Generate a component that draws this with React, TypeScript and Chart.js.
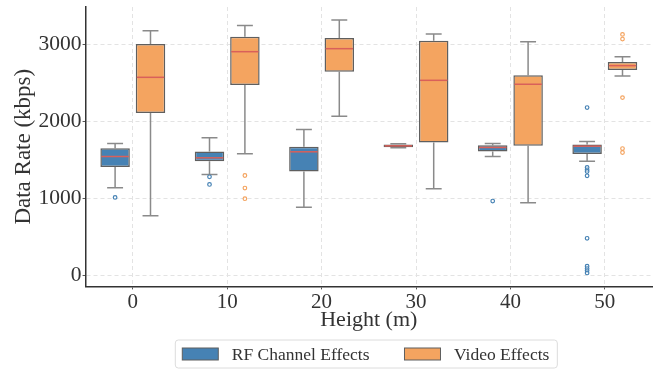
import React, { useEffect, useRef } from 'react';
import { Chart, registerables } from 'chart.js';
Chart.register(...registerables);

const categories = ['0', '10', '20', '30', '40', '50'];
const seriesNames = ['RF Channel Effects', 'Video Effects'];
const yTicks = [0, 1000, 2000, 3000];

const rfQ1 = [1406, 1483, 1349, 1664, 1608, 1574];
const rfQ3 = [1651, 1608, 1668, 1698, 1690, 1698];
const rfMedian = [1543, 1526, 1604, 1681, 1660, 1677];
const rfWhiskerLow = [1138, 1310, 884, 1655, 1543, 1483];
const rfWhiskerHigh = [1711, 1785, 1892, 1707, 1711, 1737];
const rfOutliers = [[1013], [1280, 1181], [], [], [966], [2177, 1401, 1371, 1349, 1293, 483, 121, 91, 65, 34]];

const vidQ1 = [2108, 2470, 2642, 1724, 1681, 2664];
const vidQ3 = [3000, 3095, 3078, 3043, 2595, 2767];
const vidMedian = [2569, 2901, 2940, 2530, 2479, 2720];
const vidWhiskerLow = [776, 1578, 2065, 1125, 944, 2586];
const vidWhiskerHigh = [3172, 3241, 3310, 3129, 3030, 2836];
const vidOutliers = [[], [1297, 1134, 996], [], [], [], [3125, 3065, 2306, 1646, 1595]];

const FONT = "'Liberation Serif', 'Times New Roman', serif";
const colors = ['#4682b4', '#f4a460'];
const BOX_EDGE = '#5f5f5f';
const WHISKER = '#8a8a8a';
const MEDIAN = '#d9605a';

const stats = [
  { q1: rfQ1, q3: rfQ3, med: rfMedian, lo: rfWhiskerLow, hi: rfWhiskerHigh, out: rfOutliers },
  { q1: vidQ1, q3: vidQ3, med: vidMedian, lo: vidWhiskerLow, hi: vidWhiskerHigh, out: vidOutliers },
];

const boxPlugin = {
  id: 'boxParts',
  beforeDatasetsDraw(chart: any) {
    const ctx = chart.ctx;
    const y = chart.scales.y;
    chart.data.datasets.forEach((_ds: any, di: number) => {
      const meta = chart.getDatasetMeta(di);
      const s = stats[di];
      meta.data.forEach((bar: any, i: number) => {
        const { x, width } = bar.getProps(['x', 'width'], true);
        const cap = width * 0.27;
        ctx.save();
        ctx.strokeStyle = WHISKER;
        ctx.lineWidth = 1.5;
        ctx.beginPath();
        ctx.moveTo(x, y.getPixelForValue(s.q3[i]));
        ctx.lineTo(x, y.getPixelForValue(s.hi[i]));
        ctx.moveTo(x, y.getPixelForValue(s.q1[i]));
        ctx.lineTo(x, y.getPixelForValue(s.lo[i]));
        ctx.moveTo(x - cap, y.getPixelForValue(s.hi[i]));
        ctx.lineTo(x + cap, y.getPixelForValue(s.hi[i]));
        ctx.moveTo(x - cap, y.getPixelForValue(s.lo[i]));
        ctx.lineTo(x + cap, y.getPixelForValue(s.lo[i]));
        ctx.stroke();
        ctx.restore();
      });
    });
  },
  afterDatasetsDraw(chart: any) {
    const ctx = chart.ctx;
    const y = chart.scales.y;
    chart.data.datasets.forEach((_ds: any, di: number) => {
      const meta = chart.getDatasetMeta(di);
      const s = stats[di];
      meta.data.forEach((bar: any, i: number) => {
        const { x, width } = bar.getProps(['x', 'width'], true);
        ctx.save();
        ctx.strokeStyle = MEDIAN;
        ctx.lineWidth = 1.5;
        ctx.beginPath();
        const my = y.getPixelForValue(s.med[i]);
        ctx.moveTo(x - width / 2 + 1, my);
        ctx.lineTo(x + width / 2 - 1, my);
        ctx.stroke();
        s.out[i].forEach((v: number) => {
          const py = y.getPixelForValue(v);
          ctx.beginPath();
          ctx.arc(x, py, 1.8, 0, Math.PI * 2);
          ctx.fillStyle = 'rgba(255,255,255,0.6)';
          ctx.fill();
          ctx.strokeStyle = colors[di];
          ctx.lineWidth = 1.2;
          ctx.stroke();
        });
        ctx.restore();
      });
    });
  },
  afterDraw(chart: any) {
    const ctx = chart.ctx;
    const area = chart.chartArea;
    ctx.save();
    ctx.font = `17.5px ${FONT}`;
    const boxW = 36, boxH = 12, gapText = 13.5, itemGap = 35;
    const widths = seriesNames.map((n) => boxW + gapText + ctx.measureText(n).width);
    const total = widths[0] + itemGap + widths[1];
    const cx = (area.left + area.right) / 2 - 3;
    let x = cx - total / 2;
    const cy = 354;
    const fx = x - 7, fw = total + 15, fy = cy - 14, fh = 28;
    ctx.beginPath();
    (ctx as any).roundRect(fx, fy, fw, fh, 3);
    ctx.fillStyle = 'rgba(255,255,255,0.9)';
    ctx.fill();
    ctx.strokeStyle = '#dcdcdc';
    ctx.lineWidth = 1;
    ctx.stroke();
    seriesNames.forEach((n, i) => {
      ctx.fillStyle = colors[i];
      ctx.fillRect(x, cy - boxH / 2, boxW, boxH);
      ctx.strokeStyle = BOX_EDGE;
      ctx.lineWidth = 1;
      ctx.strokeRect(x, cy - boxH / 2, boxW, boxH);
      ctx.fillStyle = '#333';
      ctx.textBaseline = 'middle';
      ctx.textAlign = 'left';
      ctx.fillText(n, x + boxW + gapText, cy + 1);
      x += widths[i] + itemGap;
    });
    ctx.restore();
  },
};

export default function App() {
  const ref = useRef<HTMLCanvasElement>(null);
  useEffect(() => {
    if (!ref.current) return;
    const chart = new Chart(ref.current, {
      type: 'bar',
      data: {
        labels: categories,
        datasets: stats.map((s, di) => ({
          label: seriesNames[di],
          data: s.q1.map((q, i) => [q, s.q3[i]]),
          backgroundColor: colors[di],
          borderColor: BOX_EDGE,
          borderWidth: 1.5,
          borderSkipped: false,
          categoryPercentage: 0.75,
          barPercentage: 0.833,
        })) as any,
      },
      options: {
        animation: false,
        responsive: false,
        layout: { padding: { left: 10, right: 7, top: 7, bottom: 37 } },
        plugins: { legend: { display: false }, tooltip: { enabled: false } },
        scales: {
          x: {
            offset: true,
            grid: {
              offset: false,
              color: '#e3e3e3',
              tickColor: '#555',
              tickLength: 3,
              tickBorderDash: [],
            } as any,
            border: { color: '#333', width: 1.5, dash: [4, 3] } as any,
            ticks: { font: { family: FONT, size: 21 }, color: '#333', padding: 0 },
            title: { display: true, text: 'Height (m)', font: { family: FONT, size: 22 }, color: '#333', padding: { top: -8, bottom: 0 } },
          },
          y: {
            min: -140,
            max: 3480,
            afterBuildTicks: (scale: any) => {
              scale.ticks = yTicks.map((v) => ({ value: v }));
            },
            afterFit: (scale: any) => {
              scale.paddingTop = 0;
              scale.paddingBottom = 0;
            },
            grid: {
              color: '#e3e3e3',
              tickColor: '#555',
              tickLength: 3,
              tickBorderDash: [],
            } as any,
            border: { color: '#333', width: 1.5, dash: [4, 3] } as any,
            ticks: {
              font: { family: FONT, size: 21.5 },
              color: '#333',
              padding: 1,
              callback: (v: any) => String(v),
            },
            title: { display: true, text: 'Data Rate (kbps)', font: { family: FONT, size: 23 }, color: '#333', padding: { top: 0, bottom: 0 } },
          },
        },
      },
      plugins: [boxPlugin],
    });
    return () => chart.destroy();
  }, []);
  return (
    <div style={{ position: 'fixed', left: 0, top: 0, width: 659, height: 370, background: '#fff' }}>
      <canvas ref={ref} width={659} height={370} />
    </div>
  );
}
